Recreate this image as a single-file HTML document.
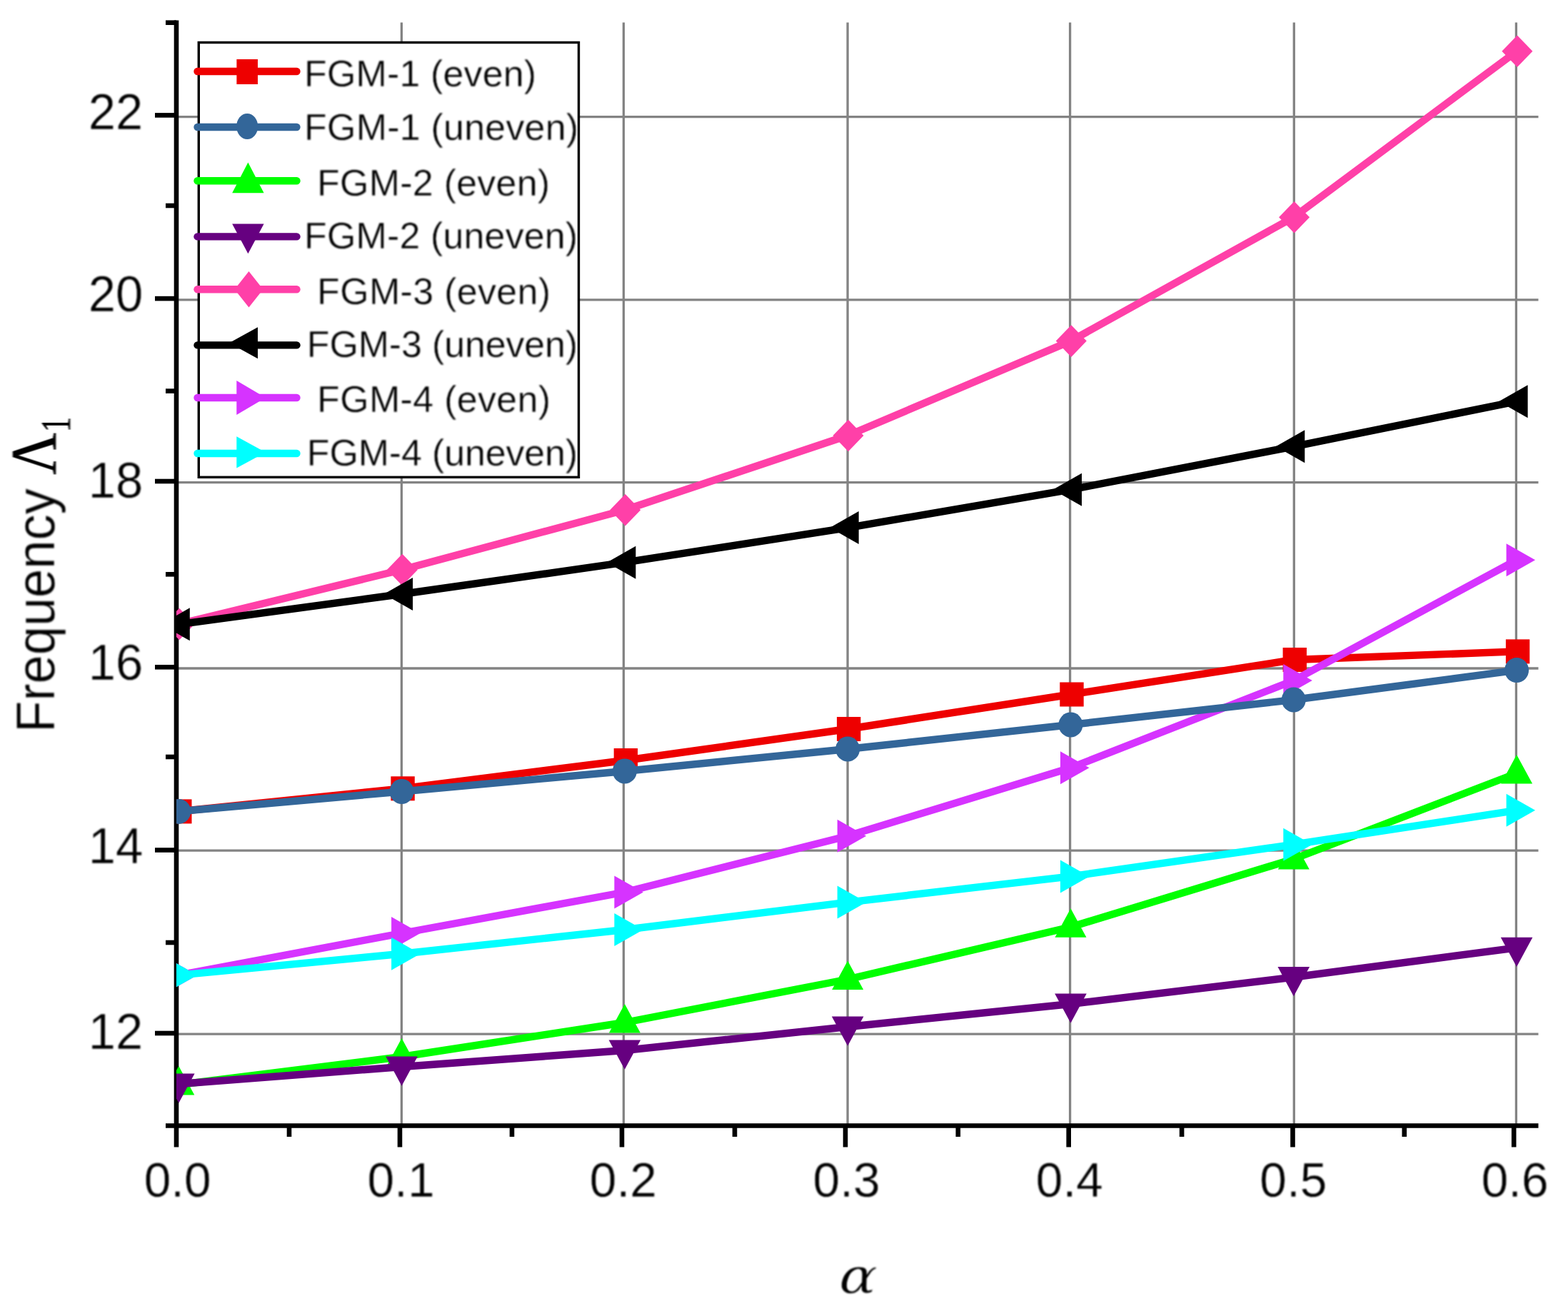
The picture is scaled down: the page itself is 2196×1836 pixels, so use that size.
<!DOCTYPE html>
<html lang="en"><head><meta charset="utf-8"><title>Frequency vs alpha</title>
<style>html,body{margin:0;padding:0;background:#fff}body{width:2196px;height:1836px;overflow:hidden}svg{display:block;filter:blur(0.7px)}text{filter:blur(0.9px)}text{font-family:"Liberation Sans",sans-serif;fill:#000;stroke:#fff;stroke-width:0.4px}.s{font-family:"Liberation Serif","DejaVu Serif",serif;stroke:#000;stroke-width:0.7px}</style>
</head><body>
<svg width="2196" height="1836" viewBox="0 0 2196 1836">
<rect width="2196" height="1836" fill="#fff"/>
<defs><clipPath id="pc"><rect x="247.1" y="0" width="1948.9" height="1572"/></clipPath></defs>
<g stroke="#838383" stroke-width="3.3" fill="none">
<line x1="562.4" y1="31.5" x2="562.4" y2="1576.5"/>
<line x1="873.4" y1="31.5" x2="873.4" y2="1576.5"/>
<line x1="1187.1" y1="31.5" x2="1187.1" y2="1576.5"/>
<line x1="1498.6" y1="31.5" x2="1498.6" y2="1576.5"/>
<line x1="1812.3" y1="31.5" x2="1812.3" y2="1576.5"/>
<line x1="2123.4" y1="31.5" x2="2123.4" y2="1576.5"/>
<line x1="247.0" y1="163.6" x2="2154.5" y2="163.6"/>
<line x1="247.0" y1="419.8" x2="2154.5" y2="419.8"/>
<line x1="247.0" y1="675.6" x2="2154.5" y2="675.6"/>
<line x1="247.0" y1="936.0" x2="2154.5" y2="936.0"/>
<line x1="247.0" y1="1191.2" x2="2154.5" y2="1191.2"/>
<line x1="247.0" y1="1448.2" x2="2154.5" y2="1448.2"/>
</g>
<g stroke="#000" stroke-width="6.6" fill="none">
<line x1="247.0" y1="28.4" x2="247.0" y2="1606.5"/>
<line x1="232" y1="1576.5" x2="2154.5" y2="1576.5"/>
<line x1="217" y1="161.4" x2="247.0" y2="161.4"/>
<line x1="217" y1="418.1" x2="247.0" y2="418.1"/>
<line x1="217" y1="674.0" x2="247.0" y2="674.0"/>
<line x1="217" y1="934.3" x2="247.0" y2="934.3"/>
<line x1="217" y1="1190.5" x2="247.0" y2="1190.5"/>
<line x1="217" y1="1447.0" x2="247.0" y2="1447.0"/>
<line x1="232" y1="31.7" x2="247.0" y2="31.7"/>
<line x1="232" y1="288.0" x2="247.0" y2="288.0"/>
<line x1="232" y1="547.6" x2="247.0" y2="547.6"/>
<line x1="232" y1="804.3" x2="247.0" y2="804.3"/>
<line x1="232" y1="1060.0" x2="247.0" y2="1060.0"/>
<line x1="232" y1="1320.0" x2="247.0" y2="1320.0"/>
<line x1="560.0" y1="1576.5" x2="560.0" y2="1606.5"/>
<line x1="871.0" y1="1576.5" x2="871.0" y2="1606.5"/>
<line x1="1184.0" y1="1576.5" x2="1184.0" y2="1606.5"/>
<line x1="1496.7" y1="1576.5" x2="1496.7" y2="1606.5"/>
<line x1="1810.5" y1="1576.5" x2="1810.5" y2="1606.5"/>
<line x1="2120.2" y1="1576.5" x2="2120.2" y2="1606.5"/>
<line x1="405.0" y1="1576.5" x2="405.0" y2="1592"/>
<line x1="717.0" y1="1576.5" x2="717.0" y2="1592"/>
<line x1="1029.0" y1="1576.5" x2="1029.0" y2="1592"/>
<line x1="1341.8" y1="1576.5" x2="1341.8" y2="1592"/>
<line x1="1655.1" y1="1576.5" x2="1655.1" y2="1592"/>
<line x1="1966.8" y1="1576.5" x2="1966.8" y2="1592"/>
</g>
<g clip-path="url(#pc)" stroke-linejoin="round" stroke-linecap="butt">
<polyline points="250.3,1136.4 562.6,1104.3 874.9,1065.0 1187.2,1021.0 1499.5,972.5 1811.8,924.0 2124.1,912.4" fill="none" stroke="#ee0000" stroke-width="10.4"/>
<rect x="235.1" y="1119.4" width="33.4" height="34" fill="#ee0000"/>
<rect x="547.4" y="1087.3" width="33.4" height="34" fill="#ee0000"/>
<rect x="859.7" y="1048.0" width="33.4" height="34" fill="#ee0000"/>
<rect x="1172.0" y="1004.0" width="33.4" height="34" fill="#ee0000"/>
<rect x="1484.3" y="955.5" width="33.4" height="34" fill="#ee0000"/>
<rect x="1796.6" y="907.0" width="33.4" height="34" fill="#ee0000"/>
<rect x="2108.9" y="895.4" width="33.4" height="34" fill="#ee0000"/>
<polyline points="250.3,1519.0 562.6,1480.0 874.9,1432.0 1187.2,1371.5 1499.5,1298.3 1811.8,1203.0 2124.1,1083.0" fill="none" stroke="#00ff00" stroke-width="10.4"/>
<polygon points="250.3,1493.0 272.3,1533.5 228.3,1533.5" fill="#00ff00"/>
<polygon points="562.6,1454.0 584.6,1494.5 540.6,1494.5" fill="#00ff00"/>
<polygon points="874.9,1406.0 896.9,1446.5 852.9,1446.5" fill="#00ff00"/>
<polygon points="1187.2,1345.5 1209.2,1386.0 1165.2,1386.0" fill="#00ff00"/>
<polygon points="1499.5,1272.3 1521.5,1312.8 1477.5,1312.8" fill="#00ff00"/>
<polygon points="1811.8,1177.0 1833.8,1217.5 1789.8,1217.5" fill="#00ff00"/>
<polygon points="2124.1,1057.0 2146.1,1097.5 2102.1,1097.5" fill="#00ff00"/>
<polyline points="250.3,874.0 562.6,798.0 874.9,714.3 1187.2,610.0 1499.5,477.6 1811.8,304.2 2124.1,71.8" fill="none" stroke="#ff40a8" stroke-width="10.4"/>
<polygon points="251.1,851.7 272.6,874.0 251.1,896.3 229.6,874.0" fill="#ff40a8"/>
<polygon points="563.4,775.7 584.9,798.0 563.4,820.3 541.9,798.0" fill="#ff40a8"/>
<polygon points="875.7,692.0 897.2,714.3 875.7,736.6 854.2,714.3" fill="#ff40a8"/>
<polygon points="1188.0,587.7 1209.5,610.0 1188.0,632.3 1166.5,610.0" fill="#ff40a8"/>
<polygon points="1500.3,455.3 1521.8,477.6 1500.3,499.9 1478.8,477.6" fill="#ff40a8"/>
<polygon points="1812.6,281.9 1834.1,304.2 1812.6,326.5 1791.1,304.2" fill="#ff40a8"/>
<polygon points="2124.9,49.5 2146.4,71.8 2124.9,94.1 2103.4,71.8" fill="#ff40a8"/>
<polyline points="250.3,1365.7 562.6,1307.0 874.9,1249.5 1187.2,1170.7 1499.5,1075.3 1811.8,953.0 2124.1,784.3" fill="none" stroke="#d633ff" stroke-width="10.4"/>
<polygon points="235.8,1342.7 276.3,1365.7 235.8,1388.7" fill="#d633ff"/>
<polygon points="548.1,1284.0 588.6,1307.0 548.1,1330.0" fill="#d633ff"/>
<polygon points="860.4,1226.5 900.9,1249.5 860.4,1272.5" fill="#d633ff"/>
<polygon points="1172.7,1147.7 1213.2,1170.7 1172.7,1193.7" fill="#d633ff"/>
<polygon points="1485.0,1052.3 1525.5,1075.3 1485.0,1098.3" fill="#d633ff"/>
<polygon points="1797.3,930.0 1837.8,953.0 1797.3,976.0" fill="#d633ff"/>
<polygon points="2109.6,761.3 2150.1,784.3 2109.6,807.3" fill="#d633ff"/>
<polyline points="250.3,1136.4 562.6,1108.5 874.9,1080.0 1187.2,1049.0 1499.5,1015.0 1811.8,980.0 2124.1,938.6" fill="none" stroke="#336699" stroke-width="10.4"/>
<ellipse cx="250.3" cy="1136.4" rx="17" ry="17.5" fill="#336699"/>
<ellipse cx="562.6" cy="1108.5" rx="17" ry="17.5" fill="#336699"/>
<ellipse cx="874.9" cy="1080.0" rx="17" ry="17.5" fill="#336699"/>
<ellipse cx="1187.2" cy="1049.0" rx="17" ry="17.5" fill="#336699"/>
<ellipse cx="1499.5" cy="1015.0" rx="17" ry="17.5" fill="#336699"/>
<ellipse cx="1811.8" cy="980.0" rx="17" ry="17.5" fill="#336699"/>
<ellipse cx="2124.1" cy="938.6" rx="17" ry="17.5" fill="#336699"/>
<polyline points="250.3,1518.0 562.6,1494.0 874.9,1471.0 1187.2,1438.0 1499.5,1406.0 1811.8,1368.5 2124.1,1327.3" fill="none" stroke="#660080" stroke-width="10.4"/>
<polygon points="228.0,1503.5 272.6,1503.5 250.3,1544.7" fill="#660080"/>
<polygon points="540.3,1479.5 584.9,1479.5 562.6,1520.7" fill="#660080"/>
<polygon points="852.6,1456.5 897.2,1456.5 874.9,1497.7" fill="#660080"/>
<polygon points="1164.9,1423.5 1209.5,1423.5 1187.2,1464.7" fill="#660080"/>
<polygon points="1477.2,1391.5 1521.8,1391.5 1499.5,1432.7" fill="#660080"/>
<polygon points="1789.5,1354.0 1834.1,1354.0 1811.8,1395.2" fill="#660080"/>
<polygon points="2101.8,1312.8 2146.4,1312.8 2124.1,1354.0" fill="#660080"/>
<polyline points="250.3,874.3 562.6,832.0 874.9,787.7 1187.2,739.1 1499.5,685.7 1811.8,625.3 2124.1,562.2" fill="none" stroke="#000000" stroke-width="10.4"/>
<polygon points="225.3,874.3 265.8,851.3 265.8,897.3" fill="#000000"/>
<polygon points="537.6,832.0 578.1,809.0 578.1,855.0" fill="#000000"/>
<polygon points="849.9,787.7 890.4,764.7 890.4,810.7" fill="#000000"/>
<polygon points="1162.2,739.1 1202.7,716.1 1202.7,762.1" fill="#000000"/>
<polygon points="1474.5,685.7 1515.0,662.7 1515.0,708.7" fill="#000000"/>
<polygon points="1786.8,625.3 1827.3,602.3 1827.3,648.3" fill="#000000"/>
<polygon points="2099.1,562.2 2139.6,539.2 2139.6,585.2" fill="#000000"/>
<polyline points="250.3,1365.7 562.6,1335.7 874.9,1302.0 1187.2,1263.6 1499.5,1227.4 1811.8,1182.7 2124.1,1134.8" fill="none" stroke="#00ffff" stroke-width="10.4"/>
<polygon points="235.8,1342.7 276.3,1365.7 235.8,1388.7" fill="#00ffff"/>
<polygon points="548.1,1312.7 588.6,1335.7 548.1,1358.7" fill="#00ffff"/>
<polygon points="860.4,1279.0 900.9,1302.0 860.4,1325.0" fill="#00ffff"/>
<polygon points="1172.7,1240.6 1213.2,1263.6 1172.7,1286.6" fill="#00ffff"/>
<polygon points="1485.0,1204.4 1525.5,1227.4 1485.0,1250.4" fill="#00ffff"/>
<polygon points="1797.3,1159.7 1837.8,1182.7 1797.3,1205.7" fill="#00ffff"/>
<polygon points="2109.6,1111.8 2150.1,1134.8 2109.6,1157.8" fill="#00ffff"/>
</g>
<g font-size="71" text-anchor="end">
<text x="0" y="0" transform="translate(200.3,180.6) scale(0.97,1)">22</text>
<text x="0" y="0" transform="translate(200.3,436.0) scale(0.97,1)">20</text>
<text x="0" y="0" transform="translate(200.3,697.3) scale(0.97,1)">18</text>
<text x="0" y="0" transform="translate(200.3,952.0) scale(0.97,1)">16</text>
<text x="0" y="0" transform="translate(200.3,1208.6) scale(0.97,1)">14</text>
<text x="0" y="0" transform="translate(200.3,1469.0) scale(0.97,1)">12</text>
</g>
<g font-size="69" text-anchor="middle">
<text x="0" y="0" transform="translate(248.7,1676) scale(0.98,1)">0.0</text>
<text x="0" y="0" transform="translate(561.5,1676) scale(0.98,1)">0.1</text>
<text x="0" y="0" transform="translate(872.8,1676) scale(0.98,1)">0.2</text>
<text x="0" y="0" transform="translate(1185.6,1676) scale(0.98,1)">0.3</text>
<text x="0" y="0" transform="translate(1497.8,1676) scale(0.98,1)">0.4</text>
<text x="0" y="0" transform="translate(1811.3,1676) scale(0.98,1)">0.5</text>
<text x="0" y="0" transform="translate(2121.7,1676) scale(0.98,1)">0.6</text>
</g>
<g transform="translate(76,1021.5) rotate(-90)">
<text x="-4.4" y="0" font-size="76" transform="scale(0.951,1)">Frequency</text>
<text class="s" x="0" y="0" font-size="91.5" transform="translate(356.8,2) scale(0.885,1)">Λ</text>
<text class="s" x="0" y="0" font-size="60" transform="translate(416.5,22) scale(0.7,1)">1</text>
</g>
<text x="0" y="0" font-size="69.5" font-style="italic" style="font-family:'DejaVu Math TeX Gyre','Liberation Serif',serif;stroke:#fff;stroke-width:0.8px" transform="translate(1168,1810.6) scale(1.12,1)">α</text>
<rect x="278.3" y="59.5" width="532.2" height="608.8" fill="#fff" stroke="#000" stroke-width="3.4"/>
<line x1="276.5" y1="100.0" x2="415.5" y2="100.0" stroke="#ee0000" stroke-width="10.4" stroke-linecap="round"/>
<rect x="331.4" y="83" width="29.6" height="35" fill="#ee0000"/>
<line x1="276.5" y1="178.0" x2="415.5" y2="178.0" stroke="#336699" stroke-width="10.4" stroke-linecap="round"/>
<ellipse cx="346.2" cy="177" rx="15" ry="18" fill="#336699"/>
<line x1="276.5" y1="253.3" x2="415.5" y2="253.3" stroke="#00ff00" stroke-width="10.4" stroke-linecap="round"/>
<polygon points="347.4,227.6 369.6,270.2 325.2,270.2" fill="#00ff00"/>
<line x1="276.5" y1="331.4" x2="415.5" y2="331.4" stroke="#660080" stroke-width="10.4" stroke-linecap="round"/>
<polygon points="325.2,313.5 369.6,313.5 347.4,355.2" fill="#660080"/>
<line x1="276.5" y1="405.2" x2="415.5" y2="405.2" stroke="#ff40a8" stroke-width="10.4" stroke-linecap="round"/>
<polygon points="348.5,380 368.5,405.2 348.5,430.4 328.5,405.2" fill="#ff40a8"/>
<line x1="276.5" y1="483.4" x2="415.5" y2="483.4" stroke="#000000" stroke-width="10.4" stroke-linecap="round"/>
<polygon points="321,480.2 361,458.2 361,502.2" fill="#000000"/>
<line x1="276.5" y1="557.0" x2="415.5" y2="557.0" stroke="#d633ff" stroke-width="10.4" stroke-linecap="round"/>
<polygon points="331.3,533 372,557 331.3,581" fill="#d633ff"/>
<line x1="276.5" y1="635.0" x2="415.5" y2="635.0" stroke="#00ffff" stroke-width="10.4" stroke-linecap="round"/>
<polygon points="331.3,611.3 372,633.4 331.3,655.5" fill="#00ffff"/>
<g font-size="52">
<text x="426.0" y="121.0" textLength="325.1" lengthAdjust="spacing">FGM-1 (even)</text>
<text x="426.0" y="196.0" textLength="384.2" lengthAdjust="spacing">FGM-1 (uneven)</text>
<text x="444.1" y="274.3" textLength="326.1" lengthAdjust="spacing">FGM-2 (even)</text>
<text x="426.0" y="347.6" textLength="383.2" lengthAdjust="spacing">FGM-2 (uneven)</text>
<text x="444.1" y="425.7" textLength="327.0" lengthAdjust="spacing">FGM-3 (even)</text>
<text x="429.8" y="500.0" textLength="379.4" lengthAdjust="spacing">FGM-3 (uneven)</text>
<text x="444.1" y="577.0" textLength="327.0" lengthAdjust="spacing">FGM-4 (even)</text>
<text x="429.8" y="652.4" textLength="379.4" lengthAdjust="spacing">FGM-4 (uneven)</text>
</g>
</svg></body></html>
